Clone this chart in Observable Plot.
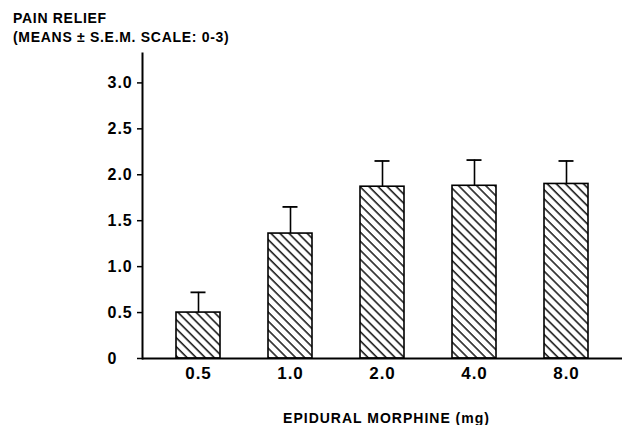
<!DOCTYPE html>
<html>
<head>
<meta charset="utf-8">
<script src="https://cdn.jsdelivr.net/npm/d3@7"></script>
<script src="https://cdn.jsdelivr.net/npm/@observablehq/plot@0.6"></script>
<style>
  html, body { margin: 0; padding: 0; background: #fff; }
  #wrap { position: relative; width: 628px; height: 425px; overflow: hidden; }
  #title { position: absolute; left: 13px; top: 9px; font: bold 14px "Liberation Sans", Arial, sans-serif;
           line-height: 19px; letter-spacing: 0.7px; color: #000; white-space: nowrap; }
  #chart { position: absolute; left: 0; top: 0; }
  #chart svg text { letter-spacing: 1px; }
</style>
</head>
<body>
<div id="wrap">
  <div id="chart"></div>
  <div id="title">PAIN RELIEF<br>(MEANS ± S.E.M. SCALE: 0-3)</div>
</div>
<script>
// Data
const doses = ["0.5", "1.0", "2.0", "4.0", "8.0"];
const means = [0.50, 1.36, 1.87, 1.88, 1.90];
const sems  = [0.22, 0.29, 0.28, 0.28, 0.25];
const yTicks = [0, 0.5, 1.0, 1.5, 2.0, 2.5, 3.0];
const xTitle = "EPIDURAL MORPHINE (mg)";

const rows = doses.map((d, i) => ({dose: d, mean: means[i], top: means[i] + sems[i]}));
const fmt = v => v === 0 ? "0" : v.toFixed(1);

const plot = Plot.plot({
  width: 628,
  height: 425,
  marginLeft: 142,
  marginRight: 6,
  marginTop: 53,
  marginBottom: 67,
  style: {fontFamily: "'Liberation Sans', Arial, sans-serif", fontWeight: "bold", color: "#000", background: "transparent"},
  x: {domain: doses, range: [142, 622], paddingInner: 0.525, paddingOuter: 0.353, align: 0.5, label: null},
  y: {domain: [0, 3.32], label: null},
  marks: [
    Plot.barY(rows, {x: "dose", y: "mean", fill: "url(#hatch)", stroke: "#000", strokeWidth: 1.6}),
    Plot.ruleX(rows, {x: "dose", y1: "mean", y2: "top", stroke: "#000", strokeWidth: 1.6}),
    Plot.tickY(rows, {x: "dose", y: "top", stroke: "#000", strokeWidth: 1.8, insetLeft: 14.5, insetRight: 14.5}),
    Plot.axisY({ticks: yTicks, tickSize: 5, tickFormat: () => "", strokeWidth: 1.5, label: null}),
    Plot.text(yTicks, {y: d => d, text: fmt, frameAnchor: "left", dx: -35, textAnchor: "start",
                       fontSize: 16, fontWeight: "bold", fill: "#000"}),
    Plot.axisX({tickSize: 0, tickPadding: 8, fontSize: 17, fontWeight: "bold", label: null}),
    Plot.frame({anchor: "left", stroke: "#000", strokeWidth: 2}),
    Plot.ruleY([0], {stroke: "#000", strokeWidth: 2}),
    Plot.text([xTitle], {text: d => d, frameAnchor: "bottom", dx: 4, dy: 64, lineAnchor: "bottom",
                         fontSize: 14, fontWeight: "bold", fill: "#000"})
  ]
});

// Hatch pattern for bars ("\\\\" diagonal lines)
const ns = "http://www.w3.org/2000/svg";
const defs = document.createElementNS(ns, "defs");
defs.innerHTML = `<pattern id="hatch" patternUnits="userSpaceOnUse" width="6.4" height="10" patternTransform="rotate(-45)">
  <rect width="6.4" height="10" fill="#fff"/>
  <line x1="1" y1="0" x2="1" y2="10" stroke="#000" stroke-width="1.4"/>
</pattern>`;
plot.insertBefore(defs, plot.firstChild);

document.getElementById("chart").appendChild(plot);
</script>
</body>
</html>
